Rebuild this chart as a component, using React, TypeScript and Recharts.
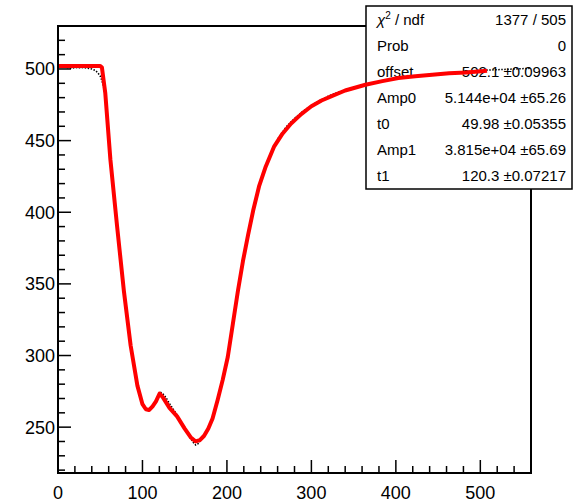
import React from "react"
import { Customized, Line, LineChart, XAxis, YAxis } from "recharts"

// histogram contents (black markers)
const histX = [0, 5, 10, 15, 20, 25, 30, 35, 40, 44, 47, 50, 53, 56, 60, 65, 70, 75, 80, 85, 90, 95, 100, 104, 107, 110, 114, 118, 121, 124, 128, 132, 136, 140, 145, 150, 155, 160, 163, 166, 170, 175, 180, 185, 190, 195, 200, 205, 210, 215, 220, 225, 230, 235, 240, 250, 260, 270, 280, 290, 300, 310, 320, 330, 340, 350, 360, 380, 400, 420, 440, 460, 480, 500, 520, 540, 560]
const histY = [501, 501.5, 501, 500.5, 501, 500.8, 501, 500.5, 500, 499, 497.5, 495, 490, 482, 452, 420, 390, 361, 335, 311, 292, 277, 267, 263, 261.5, 263, 266, 270, 274.5, 273.5, 270.5, 266.5, 263, 259.5, 254.5, 249.5, 244, 239.5, 237.5, 238.5, 242, 246, 252, 261, 271, 283, 297, 314, 332, 351, 369, 385, 399, 411, 422, 439, 451, 459.5, 465.5, 470.5, 474.5, 478, 481, 483.5, 485.5, 487, 488.5, 491, 493, 495, 496, 497, 498, 499, 499.5, 500, 500.5]

// fitted function (red curve)
const fitX = [0, 50, 52, 56, 62, 70, 78, 86, 94, 100, 104, 108, 112, 116, 120.3, 124, 132, 141, 150, 157, 163, 168, 173, 178, 183, 189, 195, 201, 207, 213, 219, 225, 231, 238, 246, 256, 266, 276, 288, 300, 312, 324, 340, 364, 384, 403, 423, 443, 463, 483, 508]
const fitY = [502.1, 502.1, 501, 483, 437, 390, 345, 307, 279, 266, 262.5, 262, 264.5, 268, 273.5, 271, 263.5, 257.5, 249, 243, 240, 241, 244, 249, 256, 269, 283, 299, 322, 345, 366, 384, 401, 418, 432, 446, 455, 462, 468.5, 474, 478, 481, 485, 489, 491.5, 493.7, 495, 496, 497, 497.6, 498.8]

const xTicks = [0, 20, 40, 60, 80, 100, 120, 140, 160, 180, 200, 220, 240, 260, 280, 300, 320, 340, 360, 380, 400, 420, 440, 460, 480, 500, 520, 540, 560]
const yTicks = [220, 230, 240, 250, 260, 270, 280, 290, 300, 310, 320, 330, 340, 350, 360, 370, 380, 390, 400, 410, 420, 430, 440, 450, 460, 470, 480, 490, 500, 510, 520]

const statLabels = ["chi2", "Prob", "offset", "Amp0", "t0", "Amp1", "t1"]
const statValues = ["1377 / 505", "0", "502.1 ±0.09963", "5.144e+04 ±65.26", "49.98 ±0.05355", "3.815e+04 ±65.69", "120.3 ±0.07217"]

const histData = histX.map((x, i) => ({ x, y: histY[i] }))
const fitData = fitX.map((x, i) => ({ x, y: fitY[i] }))

const W = 576
const H = 504
const PLOT_L = 58
const PLOT_T = 26
const PLOT_R = 531
const PLOT_B = 473
const FONT = "'Liberation Sans', Arial, Helvetica, sans-serif"

function YTick(props: any) {
  const { y, payload } = props
  const v = payload.value as number
  const major = v % 50 === 0
  return (
    <g>
      <line x1={PLOT_L} x2={PLOT_L + (major ? 13 : 7)} y1={y} y2={y} stroke="#000" strokeWidth={1.5} />
      {major ? (
        <text x={55} y={y} dy={6.5} textAnchor="end" fontSize={18} fill="#000" fontFamily={FONT}>
          {v}
        </text>
      ) : null}
    </g>
  )
}

function XTick(props: any) {
  const { x, payload } = props
  const v = payload.value as number
  const major = v % 100 === 0
  return (
    <g>
      <line x1={x} x2={x} y1={PLOT_B} y2={PLOT_B - (major ? 13 : 7)} stroke="#000" strokeWidth={1.5} />
      {major ? (
        <text x={x} y={499} textAnchor="middle" fontSize={18} fill="#000" fontFamily={FONT}>
          {v}
        </text>
      ) : null}
    </g>
  )
}

// frame + stats box, drawn between histogram and fit like ROOT does
function StatsBox() {
  const bx = 366
  const by = 6
  const bw = 206
  const bh = 183
  const rowH = bh / statLabels.length
  return (
    <g fontFamily={FONT} fontSize={15} fill="#000">
      <rect x={PLOT_L} y={PLOT_T} width={PLOT_R - PLOT_L} height={PLOT_B - PLOT_T} fill="none" stroke="#000" strokeWidth={2} />
      <rect x={bx} y={by} width={bw} height={bh} fill="#fff" stroke="#000" strokeWidth={1.5} />
      {statLabels.map((lab, i) => {
        const cy = by + rowH * i + rowH / 2 + 5.5
        return (
          <g key={lab}>
            <text x={bx + 11} y={cy} textAnchor="start">
              {lab === "chi2" ? (
                <>
                  <tspan fontStyle="italic">χ</tspan>
                  <tspan dy={-6} fontSize={10}>2</tspan>
                  <tspan dy={6}> / ndf</tspan>
                </>
              ) : (
                lab
              )}
            </text>
            <text x={bx + bw - 6} y={cy} textAnchor="end">
              {statValues[i]}
            </text>
          </g>
        )
      })}
    </g>
  )
}

export default function App() {
  return (
    <div style={{ width: W, height: H, background: "#fff" }}>
      <style>{`body{margin:0}`}</style>
      <LineChart
        width={W}
        height={H}
        margin={{ top: PLOT_T, right: W - PLOT_R, bottom: 0, left: 0 }}
        style={{ fontFamily: FONT }}
      >
        <XAxis
          dataKey="x"
          type="number"
          domain={[0, 560]}
          ticks={xTicks}
          interval={0}
          height={H - PLOT_B}
          tickLine={false}
          axisLine={{ stroke: "#000", strokeWidth: 2 }}
          tick={(p: any) => <XTick {...p} />}
          allowDataOverflow
        />
        <YAxis
          dataKey="y"
          type="number"
          domain={[218, 530]}
          ticks={yTicks}
          interval={0}
          width={PLOT_L}
          tickLine={false}
          axisLine={{ stroke: "#000", strokeWidth: 2 }}
          tick={(p: any) => <YTick {...p} />}
          allowDataOverflow
        />
        <Line
          data={histData}
          dataKey="y"
          type="linear"
          stroke="#000"
          strokeWidth={1.5}
          strokeDasharray="1.5 1.5"
          dot={false}
          isAnimationActive={false}
        />
        <Customized component={StatsBox} />
        <Line
          data={fitData}
          dataKey="y"
          type="linear"
          stroke="#ff0000"
          strokeWidth={4}
          strokeLinejoin="round"
          dot={false}
          isAnimationActive={false}
        />
      </LineChart>
    </div>
  )
}
